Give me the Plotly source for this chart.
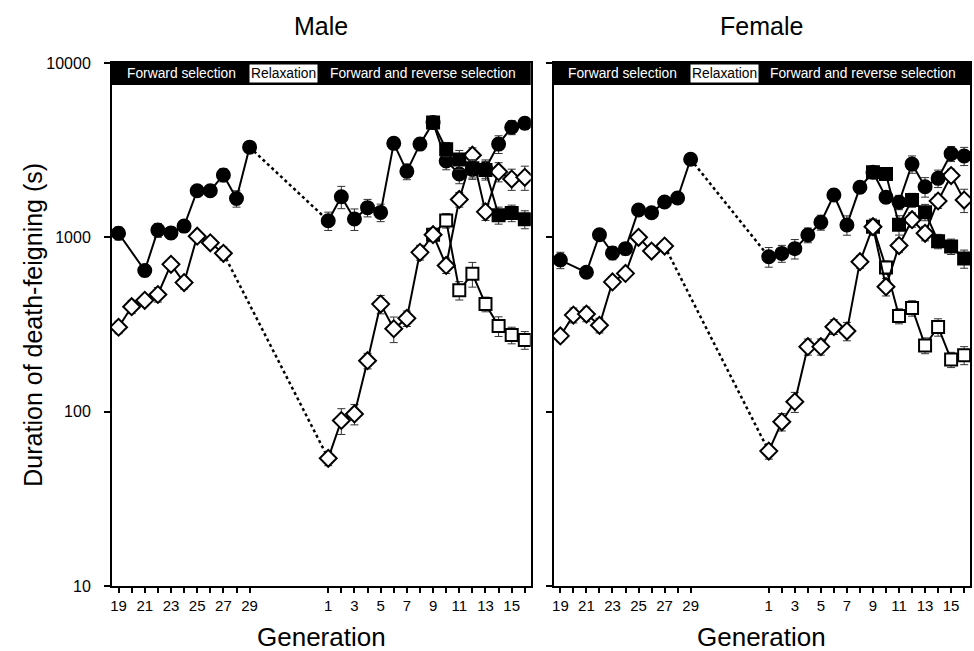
import plotly.graph_objects as go

# ---------------- data ----------------
# Phase 1: forward selection (generations 19-29)
gen_fs_L = [19, 21, 22, 23, 24, 25, 26, 27, 28, 29]
gen_fs_S = [19, 20, 21, 22, 23, 24, 25, 26, 27]
# Phase 2: forward and reverse selection (generations 1-16)
gen_fr = list(range(1, 17))
gen_rev = list(range(9, 17))

male_L_fs = [1055, 645, 1100, 1060, 1160, 1850, 1850, 2280, 1670, 3290]
male_L_fs_err = [90, 50, 100, 80, 90, 120, 110, 200, 180, 200]
male_S_fs = [305, 400, 435, 470, 700, 550, 1015, 930, 810]
male_S_fs_err = [25, 35, 30, 45, 50, 45, 60, 60, 70]
male_L_fr = [1245, 1710, 1275, 1480, 1390, 3460, 2390, 3425, 4550, 2740, 2310, 2450, 2480, 3425, 4280, 4510]
male_L_fr_err = [150, 250, 180, 170, 160, 250, 250, 250, 300, 300, 280, 300, 300, 400, 400, 350]
male_LR = [4550, 3200, 2800, 2490, 2430, 1340, 1380, 1270]
male_LR_err = [300, 300, 350, 300, 300, 150, 150, 150]
male_S_fr = [54, 89, 97, 196, 414, 299, 343, 820, 1035, 690, 1650, 2960, 1400, 2380, 2160, 2210]
male_S_fr_err = [5, 15, 13, 20, 50, 50, 35, 80, 90, 70, 160, 300, 150, 300, 300, 350]
male_SR = [1035, 1250, 497, 618, 414, 310, 275, 258]
male_SR_err = [90, 120, 60, 100, 40, 40, 30, 30]

female_L_fs = [741, 630, 1035, 813, 861, 1435, 1384, 1596, 1680, 2805]
female_L_fs_err = [80, 40, 60, 70, 70, 90, 80, 100, 100, 150]
female_S_fs = [272, 358, 363, 313, 555, 621, 1000, 834, 891]
female_S_fs_err = [20, 35, 35, 30, 40, 40, 60, 50, 60]
female_L_fr = [774, 809, 861, 1031, 1219, 1749, 1178, 1936, 2360, 1700, 1590, 2630, 1950, 2180, 3020, 2930]
female_L_fr_err = [100, 90, 110, 100, 120, 140, 150, 150, 150, 130, 150, 300, 250, 250, 300, 350]
female_LR = [2360, 2307, 1180, 1637, 1395, 950, 887, 755]
female_LR_err = [150, 150, 150, 150, 150, 90, 90, 90]
female_S_fr = [59.4, 87.5, 114, 236, 236, 307, 290, 725, 1151, 521, 897, 1262, 1055, 1616, 2260, 1637]
female_S_fr_err = [6, 10, 15, 25, 25, 30, 35, 60, 120, 60, 80, 120, 100, 150, 200, 250]
female_SR = [1151, 672, 354, 393, 240, 306, 199, 211]
female_SR_err = [120, 60, 35, 40, 25, 35, 20, 25]

tick_gens_fs = list(range(19, 30))
tick_gens_fr = list(range(1, 17))

# --------------- helpers ---------------
FONT = "Arial, Liberation Sans, sans-serif"


def pos_fs(g):
    return g - 19


def pos_fr(g):
    return g + 15


fig = go.Figure()


def series(xa, ya, xs, ys, errs, symbol, filled, size=13):
    fig.add_trace(go.Scatter(
        x=xs, y=ys, xaxis=xa, yaxis=ya, mode="lines+markers",
        line=dict(color="black", width=2),
        marker=dict(symbol=symbol, size=size,
                    color="black" if filled else "white",
                    line=dict(color="black", width=2)),
        error_y=dict(type="data", array=errs, visible=True,
                     color="#333333", thickness=1, width=4),
        showlegend=False, hoverinfo="skip"))


def dotted(xa, ya, x0, y0, x1, y1):
    fig.add_trace(go.Scatter(
        x=[x0, x1], y=[y0, y1], xaxis=xa, yaxis=ya, mode="lines",
        line=dict(color="black", width=2.5, dash="dot"),
        showlegend=False, hoverinfo="skip"))


def panel(xa, ya, L_fs, L_fs_e, S_fs, S_fs_e, L_fr, L_fr_e, LR, LR_e, S_fr, S_fr_e, SR, SR_e):
    xfsL = [pos_fs(g) for g in gen_fs_L]
    xfsS = [pos_fs(g) for g in gen_fs_S]
    xfr = [pos_fr(g) for g in gen_fr]
    xrev = [pos_fr(g) for g in gen_rev]
    dotted(xa, ya, xfsL[-1], L_fs[-1], xfr[0], L_fr[0])
    dotted(xa, ya, xfsS[-1], S_fs[-1], xfr[0], S_fr[0])
    series(xa, ya, xfsS, S_fs, S_fs_e, "diamond", False, 13)
    series(xa, ya, xfsL, L_fs, L_fs_e, "circle", True, 13)
    series(xa, ya, xrev, SR, SR_e, "square", False, 12)
    series(xa, ya, xfr, S_fr, S_fr_e, "diamond", False, 13)
    series(xa, ya, xfr, L_fr, L_fr_e, "circle", True, 13)
    series(xa, ya, xrev, LR, LR_e, "square", True, 12)


panel("x", "y", male_L_fs, male_L_fs_err, male_S_fs, male_S_fs_err, male_L_fr, male_L_fr_err,
      male_LR, male_LR_err, male_S_fr, male_S_fr_err, male_SR, male_SR_err)
panel("x2", "y2", female_L_fs, female_L_fs_err, female_S_fs, female_S_fs_err, female_L_fr, female_L_fr_err,
      female_LR, female_LR_err, female_S_fr, female_S_fr_err, female_SR, female_SR_err)

tickvals = [pos_fs(g) for g in tick_gens_fs] + [pos_fr(g) for g in tick_gens_fr]
ticktext = [str(g) if g % 2 == 1 else "" for g in tick_gens_fs] + \
           [str(g) if g % 2 == 1 else "" for g in tick_gens_fr]

xcommon = dict(range=[-0.5, 31.45], tickvals=tickvals, ticktext=ticktext, ticks="outside",
               ticklen=5, tickwidth=1.5, tickcolor="black", showline=True, linecolor="black",
               linewidth=2, mirror=True, showgrid=False, zeroline=False,
               tickfont=dict(family=FONT, size=15, color="black"))
ycommon = dict(type="log", range=[1, 4], tickvals=[10, 100, 1000, 10000], ticks="outside",
               ticklen=6, tickwidth=1.5, tickcolor="black", showline=True, linecolor="black",
               linewidth=2, mirror=True, showgrid=False, zeroline=False,
               tickfont=dict(family=FONT, size=16, color="black"))

fig.update_layout(
    width=974, height=651,
    margin=dict(l=112, r=2, t=63, b=65),
    paper_bgcolor="white", plot_bgcolor="white",
    xaxis=dict(domain=[0, 0.488], anchor="y", **xcommon),
    xaxis2=dict(domain=[0.515, 1], anchor="y2", **xcommon),
    yaxis=dict(anchor="x", ticktext=["10", "100", "1000", "10000"], ticklabelstandoff=10, **ycommon),
    yaxis2=dict(anchor="x2", showticklabels=False, **ycommon),
)

shapes = []
annotations = []
for xa, yd, title in [("x", "y domain", "Male"), ("x2", "y2 domain", "Female")]:
    shapes.append(dict(type="rect", xref=xa + " domain", yref=yd, x0=0, x1=1, y0=0.958, y1=1,
                       fillcolor="black", line=dict(width=0), layer="above"))
    annotations.append(dict(x=4.8, y=0.979, xref=xa, yref=yd, yanchor="middle", text="Forward selection",
                            showarrow=False, font=dict(family=FONT, size=13.8, color="white")))
    annotations.append(dict(x=12.6, y=0.979, xref=xa, yref=yd, yanchor="middle", text="Relaxation",
                            showarrow=False, bgcolor="white", borderpad=1,
                            font=dict(family=FONT, size=13.8, color="black")))
    annotations.append(dict(x=23.2, y=0.979, xref=xa, yref=yd, yanchor="middle",
                            text="Forward and reverse selection",
                            showarrow=False, font=dict(family=FONT, size=13.8, color="white")))
    annotations.append(dict(x=0.5, y=1, xref=xa + " domain", yref="paper", yanchor="middle", yshift=37,
                            text=title, showarrow=False, font=dict(family=FONT, size=25, color="black")))
    annotations.append(dict(x=0.5, y=0, xref=xa + " domain", yref="paper", yanchor="middle", yshift=-51,
                            text="Generation", showarrow=False,
                            font=dict(family=FONT, size=26, color="black")))

annotations.append(dict(x=-0.093, y=0.5, xref="paper", yref="paper", xanchor="center", yanchor="middle",
                        text="Duration of death-feigning (s)", textangle=-90, showarrow=False,
                        font=dict(family=FONT, size=25, color="black")))

fig.update_layout(shapes=shapes, annotations=annotations)
fig.write_html("out.html", post_script="document.body.style.margin='0px';",
               config={"displayModeBar": False})
